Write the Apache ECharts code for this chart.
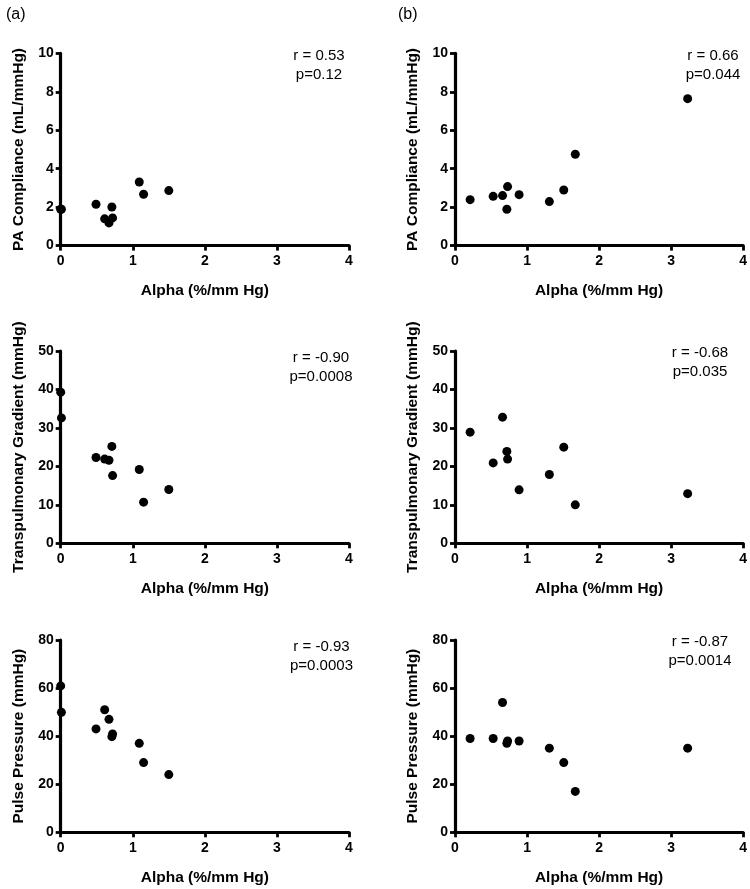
<!DOCTYPE html>
<html>
<head>
<meta charset="utf-8">
<script src="https://cdn.jsdelivr.net/npm/echarts@6/dist/echarts.min.js"></script>
<style>
html,body{margin:0;padding:0;background:#fff;}
#chart{width:750px;height:889px;}
</style>
</head>
<body>
<div id="chart"></div>
<script>
// ---- data ----
const alphaA = [0, 0.01, 0.49, 0.61, 0.67, 0.71, 0.72, 1.09, 1.15, 1.50];
const complianceA = [1.89, 1.89, 2.15, 1.39, 1.18, 2.01, 1.44, 3.31, 2.67, 2.86];
const tpgA = [39.3, 32.6, 22.3, 21.9, 21.6, 25.2, 17.6, 19.2, 10.7, 14.0];
const ppA = [60.9, 49.9, 43, 51, 47, 39.8, 40.9, 37, 29, 24];

const alphaB = [0.21, 0.53, 0.66, 0.72, 0.73, 0.89, 1.31, 1.51, 1.67, 3.23];
const complianceB = [2.39, 2.56, 2.60, 1.89, 3.07, 2.65, 2.29, 2.89, 4.75, 7.64];
const tpgB = [28.9, 20.9, 32.8, 23.9, 21.9, 13.9, 17.9, 25.0, 10.0, 12.9];
const ppB = [39, 39, 54, 37, 38, 38, 35, 29, 17, 35];

const xTicks = [0, 1, 2, 3, 4];
const yNames = ['PA Compliance (mL/mmHg)', 'Transpulmonary Gradient (mmHg)', 'Pulse Pressure (mmHg)'];
const yMax = [10, 50, 80];
const yStep = [2, 10, 20];
const xName = 'Alpha (%/mm Hg)';
const statsA = [['r = 0.53', 'p=0.12'], ['r = -0.90', 'p=0.0008'], ['r = -0.93', 'p=0.0003']];
const statsB = [['r = 0.66', 'p=0.044'], ['r = -0.68', 'p=0.035'], ['r = -0.87', 'p=0.0014']];
const panelLabels = ['(a)', '(b)'];

// ---- layout ----
const FONT = 'Liberation Sans, Arial, Helvetica, sans-serif';
const colLeft = [60.7, 455];
const plotW = 288.3;
const rowTop = [53.3, 351, 640];
const plotH = 192.3;
const statPos = [
  [[319, 55.7, 75], [713, 55.7, 75]],
  [[321, 357.7, 377], [700, 353.3, 372]],
  [[321.5, 646.7, 666], [700, 641.7, 661]]
];

const pairs = (xs, ys) => xs.map((x, i) => [x, ys[i]]);
const seriesData = [
  [pairs(alphaA, complianceA), pairs(alphaB, complianceB)],
  [pairs(alphaA, tpgA), pairs(alphaB, tpgB)],
  [pairs(alphaA, ppA), pairs(alphaB, ppB)]
];

const grids = [], xAxes = [], yAxes = [], series = [], graphics = [];
let idx = 0;
for (let r = 0; r < 3; r++) {
  for (let c = 0; c < 2; c++) {
    grids.push({left: colLeft[c], top: rowTop[r], width: plotW, height: plotH, containLabel: false});
    const axisLine = {show: true, onZero: false, lineStyle: {color: '#000', width: 3.2}};
    const axisTick = {show: true, inside: false, length: 5, lineStyle: {color: '#000', width: 2.8}};
    xAxes.push({
      type: 'value', gridIndex: idx, min: xTicks[0], max: xTicks[xTicks.length - 1], interval: 1,
      axisLine, axisTick, splitLine: {show: false},
      axisLabel: {color: '#000', fontFamily: FONT, fontWeight: 'bold', fontSize: 14, margin: 9, showMinLabel: true, showMaxLabel: true},
      name: xName, nameLocation: 'middle', nameGap: 37, nameMoveOverlap: false,
      nameTextStyle: {color: '#000', fontFamily: FONT, fontWeight: 'bold', fontSize: 15.5}
    });
    yAxes.push({
      type: 'value', gridIndex: idx, min: 0, max: yMax[r], interval: yStep[r],
      axisLine, axisTick, splitLine: {show: false},
      axisLabel: {color: '#000', fontFamily: FONT, fontWeight: 'bold', fontSize: 14, margin: 7},
      name: yNames[r], nameLocation: 'middle', nameRotate: 90, nameGap: 34, nameMoveOverlap: false,
      nameTextStyle: {color: '#000', fontFamily: FONT, fontWeight: 'bold', fontSize: 15.5}
    });
    series.push({
      type: 'scatter', xAxisIndex: idx, yAxisIndex: idx,
      data: seriesData[r][c], symbol: 'circle', symbolSize: 9,
      itemStyle: {color: '#000', opacity: 1}, silent: true
    });
    const st = (c === 0 ? statsA : statsB)[r];
    const p = statPos[r][c];
    graphics.push({type: 'text', x: p[0], y: p[1], style: {text: st[0], fill: '#000', font: '15px ' + FONT, textAlign: 'center', textVerticalAlign: 'middle'}});
    graphics.push({type: 'text', x: p[0], y: p[2], style: {text: st[1], fill: '#000', font: '15px ' + FONT, textAlign: 'center', textVerticalAlign: 'middle'}});
    idx++;
  }
}
graphics.push({type: 'text', x: 6, y: 15, style: {text: panelLabels[0], fill: '#000', font: '16px ' + FONT, textAlign: 'left', textVerticalAlign: 'middle'}});
graphics.push({type: 'text', x: 398, y: 15, style: {text: panelLabels[1], fill: '#000', font: '16px ' + FONT, textAlign: 'left', textVerticalAlign: 'middle'}});

const chart = echarts.init(document.getElementById('chart'), null, {renderer: 'canvas'});
chart.setOption({
  animation: false,
  backgroundColor: '#fff',
  grid: grids, xAxis: xAxes, yAxis: yAxes, series: series, graphic: graphics
});
</script>
</body>
</html>
